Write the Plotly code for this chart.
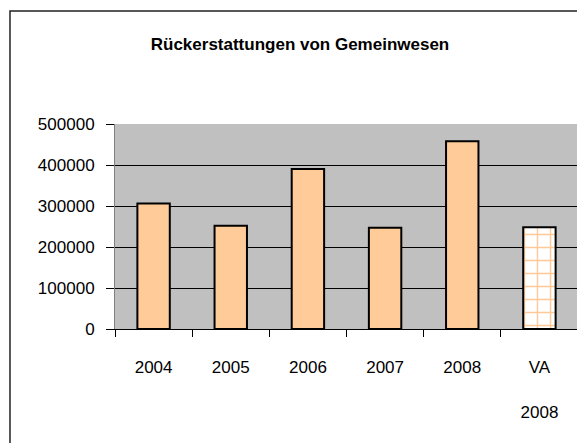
import plotly.graph_objects as go

categories = ["2004", "2005", "2006", "2007", "2008", "VA 2008"]
tick_labels = ["2004", "2005", "2006", "2007", "2008", "VA<br><br>2008"]
values = [306000, 252000, 390000, 247000, 458000, 248000]
y_ticks = [0, 100000, 200000, 300000, 400000, 500000]

fill = "#FFCC99"

fig = go.Figure()
# actual years: solid fill
fig.add_trace(go.Bar(
    x=categories[:5], y=values[:5],
    marker=dict(color=fill, line=dict(color="black", width=2)),
    width=0.42, hoverinfo="skip",
))
# budget (VA) bar: white with light orange grid
fig.add_trace(go.Bar(
    x=categories[5:], y=values[5:],
    marker=dict(
        color="white",
        line=dict(color="black", width=2),
        pattern=dict(shape="+", fgcolor="#FFC896", fgopacity=1, bgcolor="white",
                     size=13, solidity=0.2, fillmode="replace"),
    ),
    width=0.42, hoverinfo="skip",
))

font_family = "Liberation Sans, Arial, sans-serif"

# the page body adds an 8px offset, so the figure is sized to compensate
W, H = 577, 435

fig.update_layout(
    width=W, height=H,
    barmode="overlay",
    margin=dict(l=107, r=7, t=116, b=114),
    paper_bgcolor="white",
    plot_bgcolor="#C0C0C0",
    showlegend=False,
    font=dict(family=font_family, size=17, color="black"),
    title=dict(
        text="<b>Rückerstattungen von Gemeinwesen</b>",
        x=292 / W, xanchor="center", xref="container",
        y=1 - 36 / H, yanchor="middle", yref="container",
        font=dict(family=font_family, size=17, color="black"),
    ),
    xaxis=dict(
        type="category",
        categoryorder="array", categoryarray=categories,
        tickmode="array", tickvals=categories, ticktext=tick_labels,
        tickson="boundaries",
        ticks="outside", ticklen=7, tickcolor="black", tickwidth=1,
        showline=True, linecolor="black", linewidth=1,
        showgrid=False, zeroline=False,
        ticklabelstandoff=23,
        tickfont=dict(size=17),
    ),
    yaxis=dict(
        range=[0, 500000],
        tickmode="array", tickvals=y_ticks, ticktext=[str(v) for v in y_ticks],
        ticks="outside", ticklen=8, tickcolor="black", tickwidth=1,
        showline=True, linecolor="#808080", linewidth=1,
        showgrid=True, gridcolor="black", gridwidth=1,
        zeroline=False,
        ticklabelstandoff=8,
        tickfont=dict(size=17),
    ),
    shapes=[
        dict(type="rect", xref="paper", yref="paper",
             x0=-0.2268, x1=1.2, y0=-0.7, y1=1.551,
             line=dict(color="#222222", width=1.5), fillcolor="rgba(0,0,0,0)", layer="below"),
    ],
)

fig.write_html("out.html")
